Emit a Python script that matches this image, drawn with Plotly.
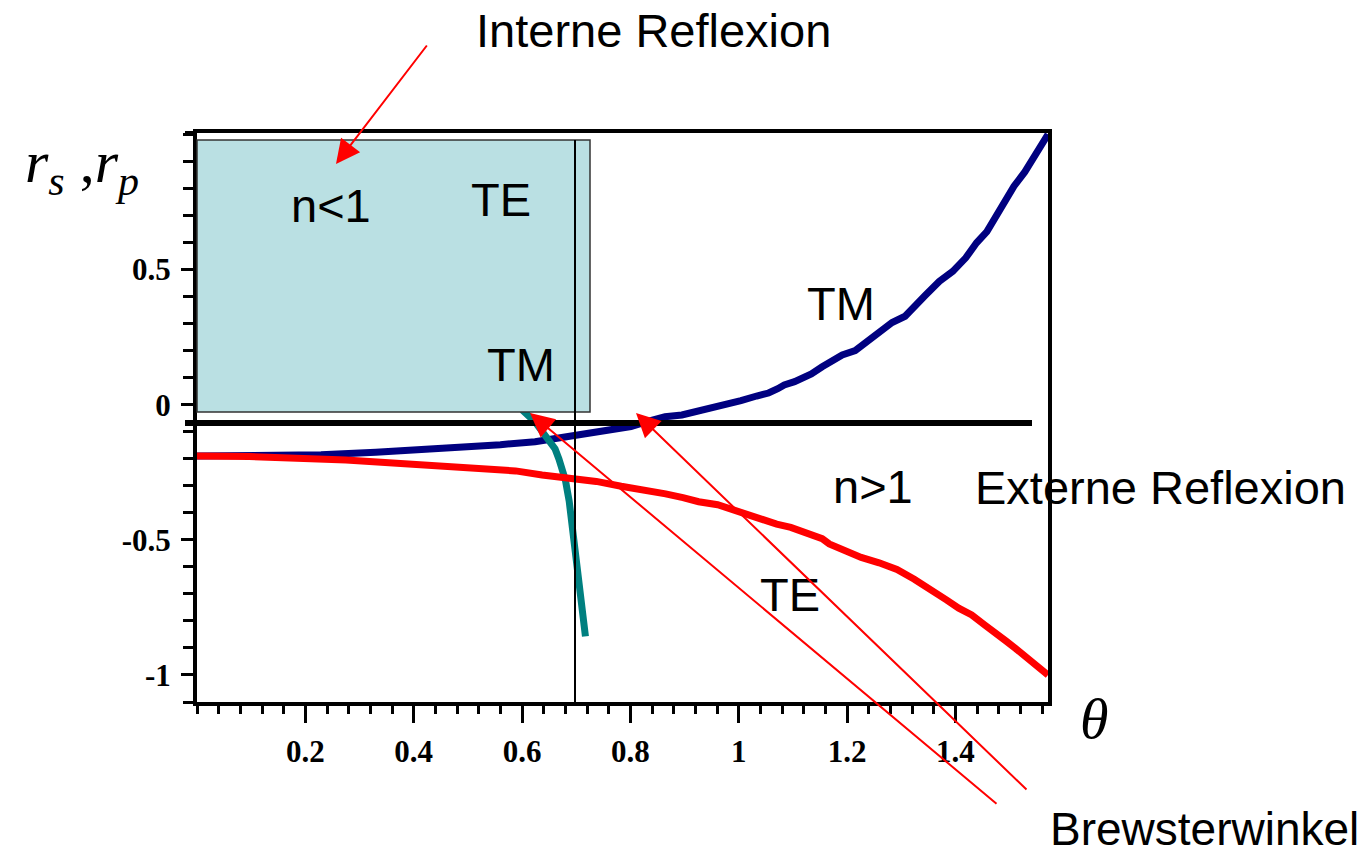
import plotly.graph_objects as go
import math

# ---------------- data ----------------
# TE (r_s, external reflection) - red
te_theta = [0.0, 0.096, 0.275, 0.406, 0.505, 0.588, 0.637, 0.689, 0.737, 0.783,
            0.830, 0.865, 0.897, 0.926, 0.961, 0.985, 1.003, 1.029, 1.053, 1.070,
            1.096, 1.119, 1.136, 1.154, 1.167, 1.191, 1.226, 1.259, 1.292, 1.324,
            1.346, 1.366, 1.384, 1.406, 1.430, 1.454, 1.474, 1.493, 1.511, 1.530,
            1.546, 1.563, 1.5708]
te_r = [-0.190, -0.192, -0.205, -0.220, -0.231, -0.245, -0.260, -0.272, -0.284, -0.302,
        -0.315, -0.330, -0.344, -0.359, -0.370, -0.386, -0.400, -0.412, -0.427, -0.442,
        -0.454, -0.470, -0.481, -0.496, -0.515, -0.537, -0.565, -0.585, -0.610, -0.646,
        -0.677, -0.704, -0.723, -0.753, -0.778, -0.815, -0.849, -0.874, -0.902, -0.933,
        -0.957, -0.989, -1.000]

# TM (r_p, external reflection) - navy
tm_theta = [0.0, 0.229, 0.330, 0.463, 0.560, 0.624, 0.672, 0.720, 0.766, 0.801,
            0.832, 0.864, 0.895, 0.930, 0.963, 0.987, 1.004, 1.033, 1.055, 1.072,
            1.084, 1.103, 1.118, 1.134, 1.154, 1.191, 1.215, 1.237, 1.259, 1.283,
            1.307, 1.322, 1.344, 1.370, 1.395, 1.419, 1.439, 1.458, 1.476, 1.493,
            1.508, 1.528, 1.543, 1.560, 1.5708]
tm_r = [-0.190, -0.185, -0.176, -0.163, -0.148, -0.137, -0.121, -0.107, -0.090, -0.081,
        -0.062, -0.045, -0.038, -0.023, -0.009, 0.003, 0.015, 0.032, 0.043, 0.059,
        0.073, 0.085, 0.099, 0.114, 0.140, 0.184, 0.200, 0.232, 0.266, 0.304,
        0.327, 0.361, 0.404, 0.456, 0.493, 0.543, 0.599, 0.640, 0.703, 0.750,
        0.808, 0.861, 0.907, 0.966, 1.000]

# TM internal reflection (n<1) - teal, visible part below the box
tmi_theta = [0.590, 0.602, 0.624, 0.643, 0.661, 0.668, 0.674, 0.680, 0.687, 0.694,
             0.700, 0.707, 0.715, 0.717]
tmi_r = [0.020, -0.023, -0.064, -0.116, -0.164, -0.201, -0.238, -0.279, -0.357, -0.468,
         -0.579, -0.690, -0.801, -0.857]

x_tickvals = [0.2, 0.4, 0.6, 0.8, 1.0, 1.2, 1.4]
x_ticktext = ["0.2", "0.4", "0.6", "0.8", "1", "1.2", "1.4"]
y_tickvals = [-1.0, -0.5, 0.0, 0.5]
y_ticktext = ["-1", "-0.5", "0", "0.5"]

# ---------------- layout geometry ----------------
W, H = 1372, 856
L, R, T, B = 197, 1048, 133, 702


def px(p):
    return (p - L) / (R - L)


def py(p):
    return (B - p) / (B - T)


fig = go.Figure()
fig.add_trace(go.Scatter(x=tm_theta, y=tm_r, mode="lines",
                         line=dict(color="#000080", width=7), showlegend=False))
fig.add_trace(go.Scatter(x=tmi_theta, y=tmi_r, mode="lines",
                         line=dict(color="#008080", width=7), showlegend=False))
fig.add_trace(go.Scatter(x=te_theta, y=te_r, mode="lines",
                         line=dict(color="#FF0000", width=7), showlegend=False))

# shaded "internal reflection" box
fig.add_shape(type="rect", xref="paper", yref="paper",
              x0=px(197), x1=px(590), y0=py(412), y1=py(140),
              fillcolor="#BAE0E3", line=dict(color="#333333", width=1.5), layer="above")
# thin vertical line (critical angle)
fig.add_shape(type="line", xref="paper", yref="paper",
              x0=px(575), x1=px(575), y0=0, y1=py(140),
              line=dict(color="black", width=2), layer="above")
# thick horizontal black line
fig.add_shape(type="line", xref="paper", yref="paper",
              x0=px(185), x1=px(1032), y0=py(423), y1=py(423),
              line=dict(color="black", width=6), layer="above")
# top frame overhang on the left
fig.add_shape(type="line", xref="paper", yref="paper",
              x0=px(185), x1=0, y0=1, y1=1,
              line=dict(color="black", width=4), layer="above")

sans = "Liberation Sans, Arial, sans-serif"
serif = "Liberation Serif, Times New Roman, serif"


def label(text, cx, cy, size=47, font=sans, yanchor="middle"):
    fig.add_annotation(text=text, xref="paper", yref="paper", x=px(cx), y=py(cy),
                       xanchor="center", yanchor=yanchor, showarrow=False,
                       borderpad=0,
                       font=dict(family=font, size=size, color="black"))


label("Interne Reflexion", 653, 30)
label("n&lt;1", 331, 205)
label("TE", 501, 199)
label("TM", 521, 364)
label("TM", 841, 303)
label("n&gt;1", 873, 486)
label("Externe Reflexion", 1160, 487)
label("TE", 790, 594)
label("Brewsterwinkel", 1204, 856, size=46, yanchor="bottom")
label("<i>r</i><sub><i>s</i></sub> ,<i>r</i><sub><i>p</i></sub>", 82, 166, size=60, font=serif)
label("<i>θ</i>", 1094, 719, size=58, font=serif)


def arrow(tipx, tipy, tailx, taily):
    fig.add_annotation(text="", xref="paper", yref="paper", x=px(tipx), y=py(tipy),
                       ax=tailx - tipx, ay=taily - tipy, axref="pixel", ayref="pixel",
                       showarrow=True, arrowhead=2, arrowsize=2.4, arrowwidth=2,
                       arrowcolor="#FF0000", standoff=0)


arrow(336, 164, 428, 44)
arrow(530, 413, 998, 805)
arrow(636, 413, 1028, 791)

axis_common = dict(showline=True, linecolor="black", linewidth=4, mirror=True,
                   showgrid=False, zeroline=False, ticks="outside", tickcolor="black",
                   tickwidth=3,
                   tickfont=dict(family=serif, size=31, color="black", weight="bold"))

fig.update_xaxes(range=[0, math.pi / 2], tickvals=x_tickvals, ticktext=x_ticktext,
                 ticklen=17, ticklabelstandoff=2,
                 minor=dict(tick0=0, dtick=0.04, ticks="outside", ticklen=8,
                            tickwidth=3, tickcolor="black", showgrid=False),
                 **axis_common)
fig.update_yaxes(range=[-1.1, 1.005], tickvals=y_tickvals, ticktext=y_ticktext,
                 ticklen=12, ticklabelstandoff=4,
                 minor=dict(tick0=0, dtick=0.1, ticks="outside", ticklen=10,
                            tickwidth=3, tickcolor="black", showgrid=False),
                 **axis_common)

fig.update_layout(width=W, height=H, margin=dict(l=L, r=W - R, t=T, b=H - B),
                  plot_bgcolor="white", paper_bgcolor="white", showlegend=False)

fig.write_html("out.html", config={"displayModeBar": False},
               post_script="document.body.style.margin='0px';document.body.style.overflow='hidden';")
